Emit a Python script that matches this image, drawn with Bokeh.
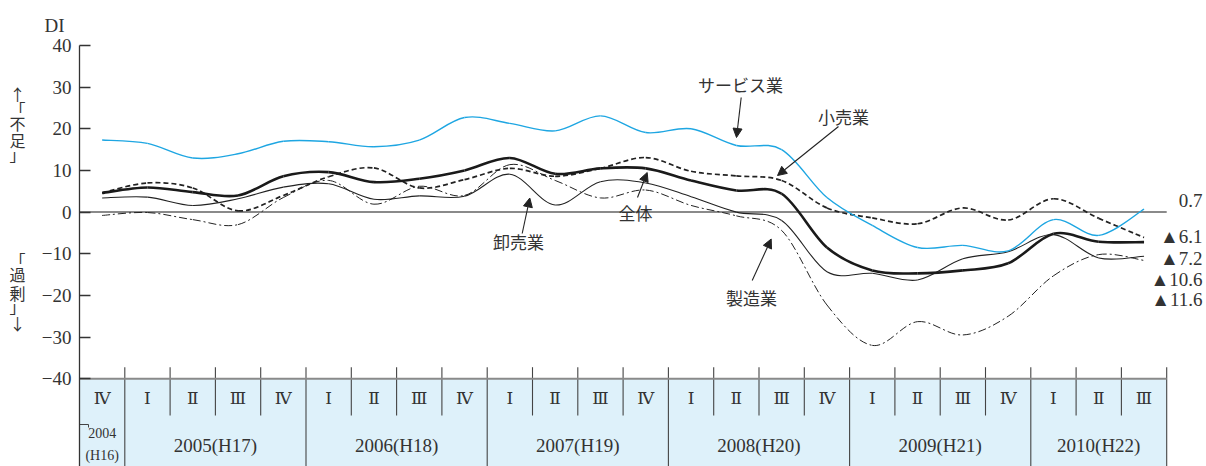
import numpy as np
from bokeh.plotting import figure
from bokeh.models import (ColumnDataSource, FixedTicker, Label, Arrow, NormalHead, Range1d, Title,
                          LinearAxis, AllLabels)
from bokeh.core.properties import value
from bokeh.embed import file_html
from bokeh.resources import INLINE

# ---------------- data ----------------
quarters = ["Ⅳ"] + ["Ⅰ", "Ⅱ", "Ⅲ", "Ⅳ"] * 5 + ["Ⅰ", "Ⅱ", "Ⅲ"]
year_labels = ["2005(H17)", "2006(H18)", "2007(H19)", "2008(H20)", "2009(H21)", "2010(H22)"]
year_quarter_counts = [1, 4, 4, 4, 4, 4, 3]   # 2004 .. 2010
first_year_label = ["2004", "(H16)"]
y_ticks = [40, 30, 20, 10, 0, -10, -20, -30, -40]

services = [17.3, 16.5, 13.0, 14.0, 17.0, 16.9, 15.7, 17.3, 22.7, 21.3, 19.5, 23.1,
            19.1, 20.0, 16.0, 15.0, 3.5, -3.2, -8.5, -8.0, -9.3, -1.8, -5.6, 0.7]
total = [4.6, 5.9, 4.8, 4.0, 8.6, 9.6, 7.2, 8.0, 10.0, 13.0, 9.2, 10.5,
         10.5, 7.6, 5.2, 4.4, -8.5, -14.0, -14.7, -14.0, -12.3, -5.2, -7.1, -7.2]
retail = [4.6, 7.0, 5.8, 0.3, 4.0, 8.5, 10.6, 5.8, 7.8, 10.5, 8.6, 10.5,
          13.1, 9.8, 8.7, 7.6, 1.0, -1.4, -2.8, 1.0, -1.9, 3.2, -1.5, -6.1]
wholesale = [3.4, 3.6, 1.6, 3.2, 6.0, 6.8, 3.1, 3.9, 3.8, 9.1, 1.7, 7.3,
             7.0, 3.7, 0.0, -2.0, -14.3, -14.7, -16.3, -11.2, -9.5, -5.4, -11.0, -10.6]
manufacturing = [-0.8, -0.1, -1.8, -3.0, 3.5, 7.6, 1.9, 6.2, 4.0, 11.4, 7.6, 3.4,
                 5.3, 1.6, -0.9, -4.4, -22.3, -32.0, -26.3, -29.5, -25.0, -15.3, -10.2, -11.6]

series_names = ["サービス業", "小売業", "全体", "卸売業", "製造業"]
side_chars = ["↑", "「", "不", "足", "」", "「", "過", "剰", "」", "↓"]

# ---------------- layout ----------------
W, H = 1206, 466
LEFT, TOP = 79, 45
PX_PER_Q = 45.3
PX_PER_UNIT = 4.165
n_q = len(quarters)
x_end = (W - LEFT) / PX_PER_Q
y_start = 40 - (H - TOP) / PX_PER_UNIT
SERIF = "'Liberation Serif', serif"
JP = "'Noto Sans CJK JP', sans-serif"
INK = "#333333"


def dx(px):
    return (px - LEFT) / PX_PER_Q


def dy(py):
    return 40 - (py - TOP) / PX_PER_UNIT


p = figure(width=W, height=H, x_range=Range1d(0, x_end), y_range=Range1d(y_start, 40),
           x_axis_type=None, output_backend="svg", toolbar_location=None,
           min_border_left=LEFT, min_border_top=TOP, min_border_right=0, min_border_bottom=0)
p.outline_line_color = None
p.grid.visible = False
p.background_fill_color = "white"

ya = p.yaxis[0]
ya.ticker = FixedTicker(ticks=y_ticks)
ya.major_tick_in = 11
ya.major_tick_out = 0
ya.minor_tick_in = 0
ya.minor_tick_out = 0
ya.major_label_standoff = 8
ya.major_label_text_font = SERIF
ya.major_label_text_font_size = "19px"
ya.major_label_text_color = INK
ya.axis_line_color = INK
ya.axis_line_width = 1.3
ya.major_tick_line_color = INK
ya.major_tick_line_width = 1.3
ya.major_label_overrides = {t: (str(t) if t >= 0 else "−" + str(-t)) for t in y_ticks}

# vertical side text ("↑「不足」" / "「過剰」↓"): one upright character per label, on an outer axis
side_py = [93, 109, 123, 140, 154, 259, 273, 292, 305, 322]
side_ticks = [round(dy(v), 3) for v in side_py]
ax2 = LinearAxis(ticker=FixedTicker(ticks=side_ticks),
                 major_label_overrides=dict(zip(side_ticks, side_chars)),
                 axis_line_color=None, major_tick_line_color=None, minor_tick_line_color=None,
                 major_tick_in=0, major_tick_out=0, minor_tick_in=0, minor_tick_out=0,
                 major_label_standoff=13, major_label_text_font=JP,
                 major_label_text_font_size="16px", major_label_text_color=INK,
                 major_label_policy=AllLabels())
p.add_layout(ax2, "left")

# "DI" above the axis
p.add_layout(Title(text="DI", align="left", offset=-35, standoff=20, text_font=SERIF,
                   text_font_size="19px", text_font_style="normal", text_color=INK), "above")

# ---------------- table at the bottom ----------------
TABLE_TOP = y_ticks[-1]
DIV_TOP = dy(366.7)
DIV_SHORT_BOTTOM = dy(415)
p.quad(left=[0], right=[n_q], bottom=[y_start - 1], top=[TABLE_TOP],
       fill_color="#def1fa", line_color=None)

bounds = list(np.cumsum(year_quarter_counts))
short_x = [k for k in range(1, n_q) if k not in bounds]
long_x = [k for k in bounds]
p.segment(x0=short_x, x1=short_x, y0=[DIV_TOP] * len(short_x), y1=[DIV_SHORT_BOTTOM] * len(short_x),
          line_color="#444444", line_width=1.1)
p.segment(x0=long_x, x1=long_x, y0=[DIV_TOP] * len(long_x), y1=[y_start - 1] * len(long_x),
          line_color="#444444", line_width=1.1)

# reference lines at 0 and -40
p.segment(x0=[0, 0], x1=[n_q, n_q], y0=[0, TABLE_TOP], y1=[0, TABLE_TOP],
          line_color="#8a8a8a", line_width=2)

q_src = ColumnDataSource(dict(x=[i + 0.5 for i in range(n_q)], y=[dy(397)] * n_q, t=quarters))
p.text(x="x", y="y", text="t", source=q_src, text_font=value("DejaVu Serif"),
       text_font_size="17px", text_color=INK, text_align="center", text_baseline="middle")

ys_start = bounds[:-1]
ys_end = bounds[1:]
yr_src = ColumnDataSource(dict(x=[(a + b) / 2 for a, b in zip(ys_start, ys_end)],
                               y=[dy(445)] * len(year_labels), t=year_labels))
p.text(x="x", y="y", text="t", source=yr_src, text_font=value("Liberation Serif"),
       text_font_size="19px", text_color=INK, text_align="center", text_baseline="middle")

fy_src = ColumnDataSource(dict(x=[0.5, 0.5], y=[dy(432), dy(455)], t=first_year_label))
p.text(x="x", y="y", text="t", source=fy_src, text_font=value("Liberation Serif"),
       text_font_size="14px", text_color=INK, text_align="center", text_baseline="middle")
p.line(x=[0, dx(88), dx(88)], y=[dy(424), dy(424), dy(427)], line_color="#444444", line_width=1)


# ---------------- series (smooth Catmull-Rom beziers through quarterly points) ----------------
def bezier_source(vals):
    xs = np.array([i + 0.5 for i in range(len(vals))], float)
    ys = np.asarray(vals, float)
    n = len(xs)
    xp = np.concatenate([[xs[0]], xs, [xs[-1]]])
    yp = np.concatenate([[ys[0]], ys, [ys[-1]]])
    return ColumnDataSource(dict(
        x0=xs[:-1], y0=ys[:-1], x1=xs[1:], y1=ys[1:],
        cx0=xp[1:n] + (xp[2:n + 1] - xp[0:n - 1]) / 6,
        cy0=yp[1:n] + (yp[2:n + 1] - yp[0:n - 1]) / 6,
        cx1=xp[2:n + 1] - (xp[3:n + 2] - xp[1:n]) / 6,
        cy1=yp[2:n + 1] - (yp[3:n + 2] - yp[1:n]) / 6,
    ))


styles = [
    (manufacturing, dict(line_color="#222222", line_width=1.0, line_dash="8 3 2 3")),
    (wholesale, dict(line_color="#222222", line_width=1.1)),
    (retail, dict(line_color="#222222", line_width=1.7, line_dash="5 3")),
    (total, dict(line_color="#1a1a1a", line_width=2.6)),
    (services, dict(line_color="#1ea6e2", line_width=1.4)),
]
for vals, st in styles:
    p.bezier(x0="x0", y0="y0", x1="x1", y1="y1", cx0="cx0", cy0="cy0", cx1="cx1", cy1="cy1",
             source=bezier_source(vals), **st)

# ---------------- annotations ----------------
name_pos = [(740, 84), (843, 116), (635, 212), (518, 241), (751, 297)]
for name, (px, py) in zip(series_names, name_pos):
    p.add_layout(Label(x=dx(px), y=dy(py), text=name, text_font=JP, text_font_size="17px",
                       text_color=INK, text_align="center", text_baseline="middle"))

arrow_px = [((740.7, 97), (736, 137)), ((838, 126), (777, 175)), ((637, 197), (646.7, 172)),
            ((521.7, 233), (529.3, 197.5)), ((751.7, 280), (770.7, 238.5))]
for (a, b) in arrow_px:
    p.add_layout(Arrow(x_start=dx(a[0]), y_start=dy(a[1]), x_end=dx(b[0]), y_end=dy(b[1]),
                       line_color="#222222", line_width=1.1,
                       end=NormalHead(size=9, fill_color="#222222", line_color="#222222")))

# end values
end_vals = [services[-1], retail[-1], total[-1], wholesale[-1], manufacturing[-1]]
end_py = [200, 236, 258, 279, 299]
for v, py in zip(end_vals, end_py):
    txt = f"{v:.1f}" if v >= 0 else f"▲{-v:.1f}"
    p.add_layout(Label(x=dx(1202), y=dy(py), text=txt, text_font=SERIF,
                       text_font_size="19px", text_color=INK, text_align="right",
                       text_baseline="middle"))

open("out.html", "w").write(file_html(p, INLINE))
